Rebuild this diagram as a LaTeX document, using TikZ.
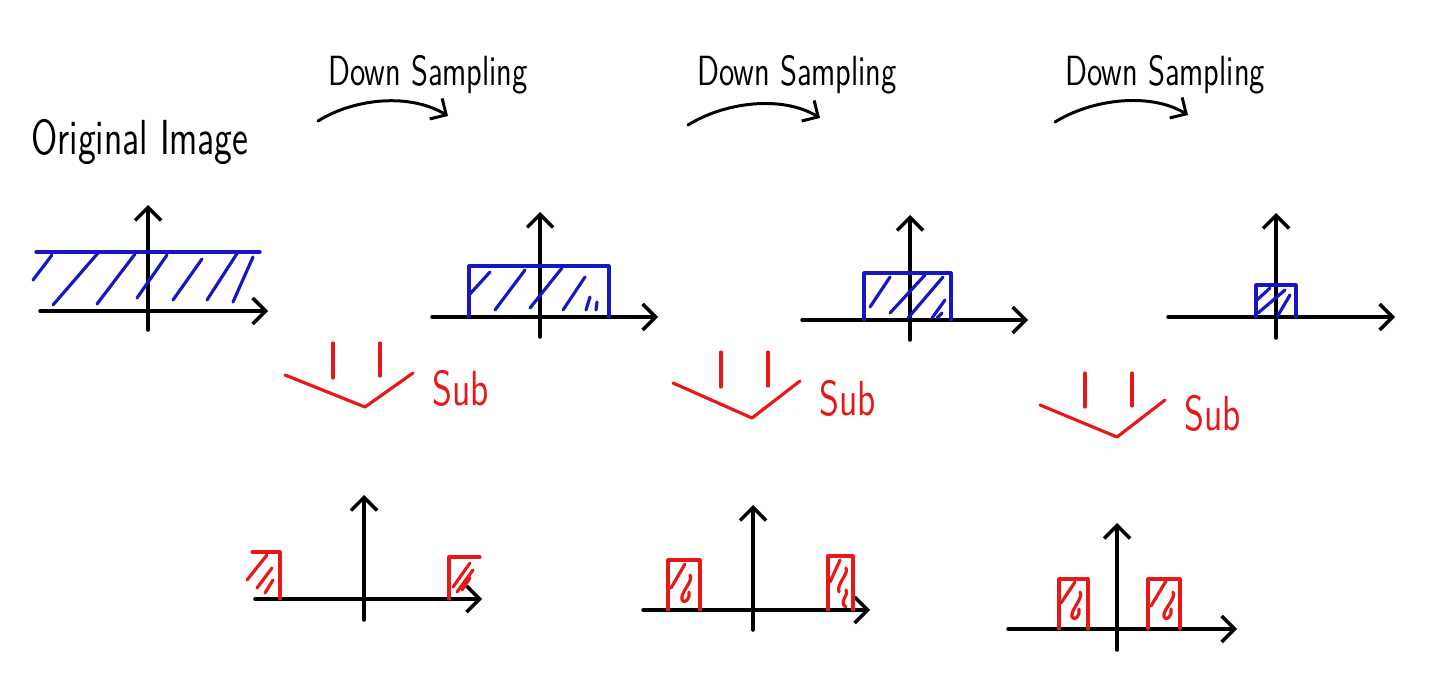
\documentclass[tikz,border=0pt]{standalone}
\usetikzlibrary{arrows.meta}
\definecolor{specA}{RGB}{22,22,196}
\definecolor{aliasB}{RGB}{232,24,24}
\tikzset{axis/.style={draw=black,line width=1pt,-{Straight Barb[length=1.3mm,width=2.6mm]}},
 flow/.style={draw=black,line width=0.85pt,-{Straight Barb[length=1.2mm,width=2.4mm]}},
 band/.style={draw=specA,line width=0.9pt},
 alias/.style={draw=aliasB,line width=0.9pt},
 label/.style={inner sep=0pt,xscale=0.74,font=\sffamily},
 every picture/.style={line join=round,line cap=round}}

\begin{document}
\begin{tikzpicture}[x=0.01cm,y=-0.01cm]
\useasboundingbox (0,0) rectangle (1440,685);
% titles
\node[label,font=\sffamily\fontsize{14}{16}\selectfont] (title) at (140,142) {Original Image};
\node[label,font=\sffamily\fontsize{12}{14}\selectfont] (ds1) at (428,75) {Down Sampling};
\node[label,font=\sffamily\fontsize{12}{14}\selectfont] (ds2) at (797,75) {Down Sampling};
\node[label,font=\sffamily\fontsize{12}{14}\selectfont] (ds3) at (1165,75) {Down Sampling};
\coordinate (a1) at (318,121); \coordinate (b1) at (448,116);
\coordinate (a2) at (688,125); \coordinate (b2) at (820,118);
\coordinate (a3) at (1055,122); \coordinate (b3) at (1188,115);
\draw[flow] (a1) .. controls (355,98) and (410,93) .. (b1);
\draw[flow] (a2) .. controls (725,102) and (782,95) .. (b2);
\draw[flow] (a3) .. controls (1092,99) and (1150,92) .. (b3);
% original spectrum
\draw[axis] (40,311) -- (268,311);
\draw[axis] (148,330) -- (148,205);
\draw[band] (36,252) -- (260,252);
\foreach \xa/\ya/\xb/\yb in {52/255/33/280, 98/253/53/305, 135/254/97/304, 167/255/137/298,
  202/259/173/300, 238/252/207/300, 253/257/233/302}
  \draw[band] (\xa,\ya) -- (\xb,\yb);
% first down sampling
\draw[axis] (432,317) -- (658,317);
\draw[axis] (540,337) -- (540,212);
\draw[band] (469,317) -- (469,266) -- (609,266) -- (609,317);
\foreach \xa/\ya/\xb/\yb in {490/272/469/295, 525/270/495/310, 562/268/530/308, 585/277/563/310,
  590/297/586/310, 597/302/596/310}
  \draw[band] (\xa,\ya) -- (\xb,\yb);
% second down sampling
\draw[axis] (802,320) -- (1028,320);
\draw[axis] (910,340) -- (910,215);
\draw[band] (864,320) -- (864,273) -- (951,273) -- (951,320);
\foreach \xa/\ya/\xb/\yb in {890/277/870/307, 925/275/890/313, 943/277/908/318, 945/300/932/318,
  942/313/937/318}
  \draw[band] (\xa,\ya) -- (\xb,\yb);
% third down sampling
\draw[axis] (1168,317) -- (1395,317);
\draw[axis] (1276,338) -- (1276,213);
\draw[band] (1256,317) -- (1256,285) -- (1296,285) -- (1296,317);
\foreach \xa/\ya/\xb/\yb in {1270/288/1257/300, 1285/290/1258/313, 1290/295/1277/317}
  \draw[band] (\xa,\ya) -- (\xb,\yb);
% subtraction marks
\coordinate (v1) at (365,407);
\draw[alias] (285,375) -- (v1) -- (413,373);
\draw[alias] (333,343) -- (333,378);
\draw[alias] (380,343) -- (380,376);
\node[label,text=aliasB,font=\sffamily\fontsize{14}{16}\selectfont] (sub1) at (461,388) {Sub};
\coordinate (v2) at (752,418);
\draw[alias] (673,383) -- (v2) -- (800,381);
\draw[alias] (721,352) -- (721,387);
\draw[alias] (768,352) -- (768,386);
\node[label,text=aliasB,font=\sffamily\fontsize{14}{16}\selectfont] (sub2) at (848,398) {Sub};
\coordinate (v3) at (1117,437);
\draw[alias] (1040,405) -- (v3) -- (1165,400);
\draw[alias] (1085,373) -- (1085,407);
\draw[alias] (1132,373) -- (1132,406);
\node[label,text=aliasB,font=\sffamily\fontsize{14}{16}\selectfont] (sub3) at (1213,413) {Sub};
% aliasing residues
\draw[axis] (255,599) -- (482,599);
\draw[axis] (364,620) -- (364,495);
\draw[alias] (252,552) -- (280,552) -- (280,599);
\draw[alias] (449,599) -- (449,557) -- (480,557);
\foreach \xa/\ya/\xb/\yb in {267/555/247/580, 272/568/257/588, 273/580/265/593,
  470/563/453/587, 473/570/457/592, 470/578/462/590}
  \draw[alias] (\xa,\ya) -- (\xb,\yb);
\draw[axis] (643,610) -- (870,610);
\draw[axis] (753,630) -- (753,505);
\draw[alias] (668,610) -- (668,560) -- (700,560) -- (700,610);
\draw[alias] (828,610) -- (828,556) -- (853,556) -- (853,610);
\draw[alias] (685,564) -- (671,588);
\draw[alias] (690,575) .. controls (694,581) and (680,592) .. (682,600) .. controls (684,605) and (691,598) .. (689,592);
\draw[alias] (840,560) -- (830,582);
\draw[alias] (846,568) .. controls (849,574) and (836,584) .. (839,592);
\draw[alias] (846,590) .. controls (849,596) and (838,602) .. (846,607);
\draw[axis] (1008,629) -- (1237,629);
\draw[axis] (1117,650) -- (1117,523);
\draw[alias] (1059,629) -- (1059,579) -- (1088,579) -- (1088,629);
\draw[alias] (1148,629) -- (1148,579) -- (1180,579) -- (1180,629);
\draw[alias] (1075,582) -- (1061,603);
\draw[alias] (1080,592) .. controls (1084,598) and (1070,610) .. (1072,617) .. controls (1074,622) and (1081,615) .. (1079,609);
\draw[alias] (1166,581) -- (1151,606);
\draw[alias] (1173,592) .. controls (1177,598) and (1162,610) .. (1164,617) .. controls (1166,622) and (1173,615) .. (1171,609);
\end{tikzpicture}
\end{document}
